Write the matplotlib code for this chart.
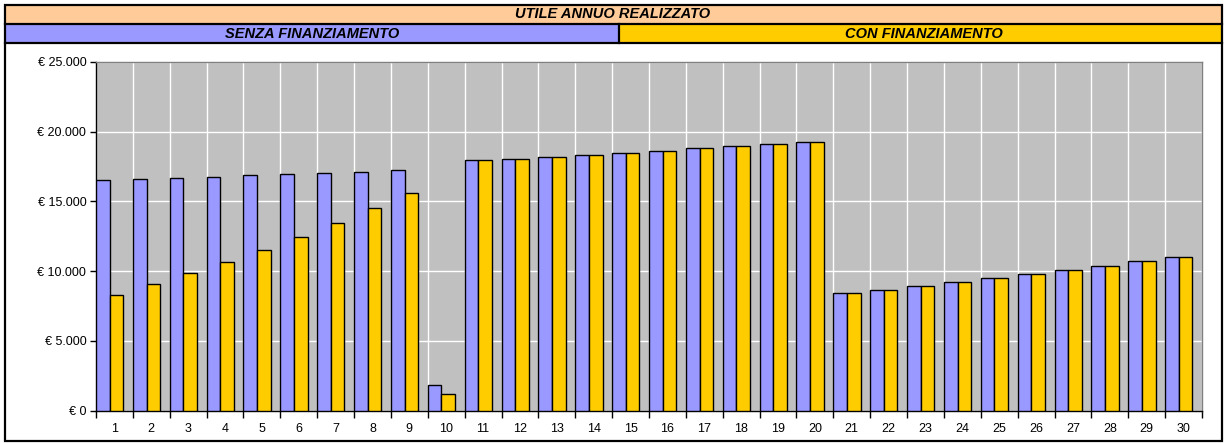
import matplotlib
matplotlib.use("Agg")
import matplotlib.pyplot as plt
from matplotlib.patches import Rectangle
from matplotlib.ticker import FuncFormatter, MultipleLocator
import numpy as np

plt.rcParams["font.family"] = ["Liberation Sans", "DejaVu Sans"]

# data (in euro)
anni = list(range(1, 31))
senza_finanziamento = [
    16540, 16590, 16700, 16770, 16870, 16950, 17040, 17130, 17230, 1820,
    17950, 18080, 18220, 18360, 18500, 18650, 18800, 18960, 19120, 19290,
    8460, 8680, 8960, 9230, 9510, 9780, 10100, 10400, 10720, 11010,
]
con_finanziamento = [
    8290, 9080, 9850, 10680, 11510, 12470, 13480, 14510, 15580, 1220,
    17950, 18080, 18220, 18360, 18500, 18650, 18800, 18960, 19120, 19290,
    8460, 8680, 8960, 9230, 9510, 9780, 10100, 10400, 10720, 11010,
]
titolo = "UTILE ANNUO REALIZZATO"
etichetta_senza = "SENZA FINANZIAMENTO"
etichetta_con = "CON FINANZIAMENTO"

W, H = 1224, 443
BLU = "#9999FF"
GIALLO = "#FFCC00"
ARANCIO = "#FFCC99"


def fx(px):
    return px / W


def fy(py):
    return 1 - py / H


fig = plt.figure(figsize=(W / 100, H / 100), dpi=100)

# header bands
fig.patches.append(Rectangle((fx(5), fy(24)), fx(1222 - 5), (24 - 5) / H,
                             transform=fig.transFigure, facecolor=ARANCIO,
                             edgecolor="none", zorder=0))
fig.patches.append(Rectangle((fx(5), fy(43)), fx(619 - 5), (43 - 24) / H,
                             transform=fig.transFigure, facecolor=BLU,
                             edgecolor="none", zorder=0))
fig.patches.append(Rectangle((fx(619), fy(43)), fx(1222 - 619), (43 - 24) / H,
                             transform=fig.transFigure, facecolor=GIALLO,
                             edgecolor="none", zorder=0))
# frame and separators
fig.patches.append(Rectangle((fx(5), fy(441)), fx(1222 - 5), (441 - 5) / H,
                             transform=fig.transFigure, facecolor="none",
                             edgecolor="black", linewidth=1.6, zorder=2))
for yy in (24, 43):
    fig.add_artist(plt.Line2D([fx(5), fx(1222)], [fy(yy), fy(yy)],
                              transform=fig.transFigure, color="black", linewidth=1.6))
fig.add_artist(plt.Line2D([fx(619), fx(619)], [fy(24), fy(43)],
                          transform=fig.transFigure, color="black", linewidth=1.6))

testo = dict(fontsize=10.5, fontweight="bold", fontstyle="italic",
             ha="center", va="center")
fig.text(fx(613), fy(14.5), titolo, **testo)
fig.text(fx(312), fy(34), etichetta_senza, **testo)
fig.text(fx(924), fy(34), etichetta_con, **testo)

# chart
ax = fig.add_axes([fx(96), 1 - 410.7 / H, fx(1202 - 96), (410.7 - 62) / H])
ax.set_facecolor("#C0C0C0")

x = np.array(anni, dtype=float)
larghezza = 0.37
ax.bar(x - 0.5, senza_finanziamento, width=larghezza, align="edge",
       color=BLU, edgecolor="black", linewidth=1.0, zorder=3)
ax.bar(x - 0.5 + larghezza, con_finanziamento, width=larghezza, align="edge",
       color=GIALLO, edgecolor="black", linewidth=1.0, zorder=3)

ax.set_xlim(0.5, len(anni) + 0.5)
ax.set_ylim(0, 25000)
ax.set_xticks(x)
ax.set_xticklabels([str(a) for a in anni])
ax.set_xticks(np.arange(0.5, len(anni) + 1), minor=True)
ax.tick_params(axis="x", which="major", length=0, labelsize=9, pad=9)
ax.tick_params(axis="x", which="minor", length=5, width=1, direction="out")
ax.yaxis.set_major_locator(MultipleLocator(5000))
ax.yaxis.set_major_formatter(
    FuncFormatter(lambda v, _: "€ " + f"{v:,.0f}".replace(",", ".")))
ax.tick_params(axis="y", length=4, width=1, labelsize=9, pad=3)

ax.grid(axis="y", which="major", color="white", linewidth=1, zorder=1)
ax.grid(axis="x", which="minor", color="white", linewidth=1, zorder=1)
ax.set_axisbelow(True)

for lato in ("top", "right"):
    ax.spines[lato].set_color("#808080")
    ax.spines[lato].set_linewidth(1)
for lato in ("left", "bottom"):
    ax.spines[lato].set_color("black")
    ax.spines[lato].set_linewidth(1)

fig.savefig("out.png", dpi=100)
